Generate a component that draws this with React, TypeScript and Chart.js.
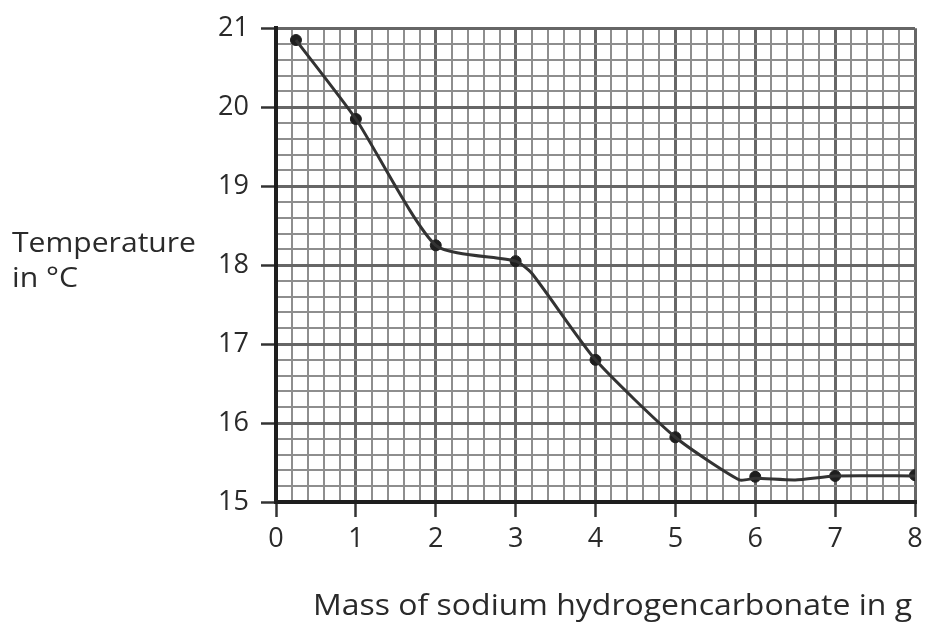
import React, { useEffect, useRef } from "react";
import { Chart, registerables } from "chart.js";

Chart.register(...registerables);

// Measured points (mass in g, temperature in °C)
const massValues = [0.25, 1, 2, 3, 4, 5, 6, 7, 8];
const tempValues = [20.85, 19.85, 18.25, 18.05, 16.8, 15.82, 15.32, 15.33, 15.34];

// Hand-drawn curve vertices
const curveMass = [0.25, 1, 2, 3, 3.2, 4, 5, 5.8, 6, 6.5, 7, 8];
const curveTemp = [20.85, 19.85, 18.25, 18.05, 17.9, 16.8, 15.82, 15.28, 15.3, 15.28, 15.33, 15.33];

const xTickLabels = ["0", "1", "2", "3", "4", "5", "6", "7", "8"];
const yTickLabels = ["15", "16", "17", "18", "19", "20", "21"];

const xTitle = "Mass of sodium hydrogencarbonate in g";
const yTitleLines = ["Temperature", "in °C"];

const isMajor = (v: number) => Math.abs(v - Math.round(v)) < 1e-6;

function drawFitted(ctx: CanvasRenderingContext2D, text: string, x: number, y: number, width: number) {
  const w = ctx.measureText(text).width;
  const s = width / w;
  ctx.save();
  ctx.translate(x, y);
  ctx.scale(s, 1);
  ctx.fillText(text, 0, 0);
  ctx.restore();
}

const titlePlugin = {
  id: "titles",
  afterDraw(chart: any) {
    const ctx = chart.ctx as CanvasRenderingContext2D;
    ctx.save();
    ctx.fillStyle = "#2a2a2a";
    ctx.textAlign = "left";
    ctx.textBaseline = "alphabetic";
    ctx.font = "27px 'Open Sans'";
    drawFitted(ctx, yTitleLines[0], 12, 252, 184);
    drawFitted(ctx, yTitleLines[1], 12, 287, 66);
    ctx.font = "30px 'Open Sans'";
    drawFitted(ctx, xTitle, 313, 615, 599);
    ctx.restore();
  },
};

const gridOpts = {
  color: (c: any) => (isMajor(c.tick?.value ?? 0) ? "#666" : "#8e8e8e"),
  lineWidth: (c: any) => (isMajor(c.tick?.value ?? 0) ? 3 : 2),
  tickColor: (c: any) => (isMajor(c.tick?.value ?? 0) ? "#333" : "rgba(0,0,0,0)"),
  tickWidth: 2.5,
  tickLength: 15,
};

export default function App() {
  const ref = useRef<HTMLCanvasElement | null>(null);

  useEffect(() => {
    if (!ref.current) return;
    const chart = new Chart(ref.current, {
      type: "scatter",
      data: {
        datasets: [
          {
            label: "curve",
            data: curveMass.map((x, i) => ({ x, y: curveTemp[i] })),
            showLine: true,
            borderColor: "#333",
            borderWidth: 3,
            pointRadius: 0,
            tension: 0.2,
            fill: false,
          },
          {
            label: "points",
            data: massValues.map((x, i) => ({ x, y: tempValues[i] })),
            showLine: false,
            pointRadius: 5.5,
            pointBackgroundColor: "#1e1e1e",
            pointBorderColor: "#1e1e1e",
          },
        ],
      },
      options: {
        animation: false,
        responsive: false,
        layout: { padding: { top: 27, right: 15, left: 0, bottom: 0 } },
        plugins: { legend: { display: false }, tooltip: { enabled: false } },
        scales: {
          x: {
            type: "linear",
            min: 0,
            max: 8,
            afterFit: (s: any) => {
              s.height = 123;
            },
            ticks: {
              stepSize: 0.2,
              autoSkip: false,
              maxRotation: 0,
              padding: 6,
              color: "#2a2a2a",
              font: { family: "'Open Sans'", size: 27 },
              callback: (v: any) => (isMajor(Number(v)) ? xTickLabels[Math.round(Number(v))] : ""),
            },
            grid: gridOpts,
            border: { display: true, color: "#1e1e1e", width: 4 },
          },
          y: {
            type: "linear",
            min: 15,
            max: 21,
            afterFit: (s: any) => {
              s.width = 276;
            },
            ticks: {
              stepSize: 0.2,
              autoSkip: false,
              padding: 12,
              color: "#2a2a2a",
              font: { family: "'Open Sans'", size: 27 },
              callback: (v: any) => (isMajor(Number(v)) ? yTickLabels[Math.round(Number(v)) - 15] : ""),
            },
            grid: gridOpts,
            border: { display: true, color: "#1e1e1e", width: 4 },
          },
        },
      },
      plugins: [titlePlugin],
    });
    return () => chart.destroy();
  }, []);

  return (
    <div style={{ position: "fixed", left: 0, top: 0, width: 930, height: 625, background: "#fff" }}>
      <canvas ref={ref} width={930} height={625} style={{ display: "block" }} />
    </div>
  );
}
